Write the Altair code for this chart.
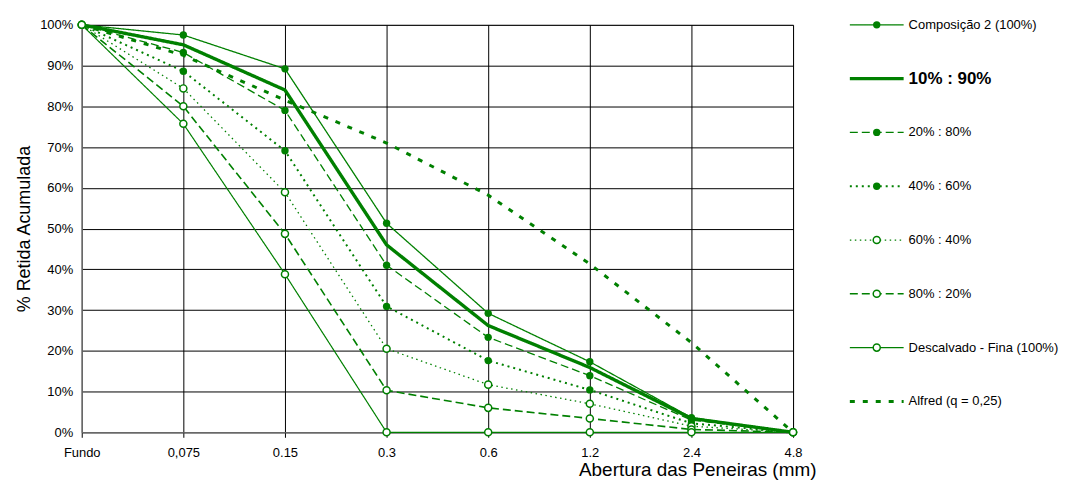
import altair as alt
import pandas as pd

sieves = ["Fundo", "0,075", "0.15", "0.3", "0.6", "1.2", "2.4", "4.8"]

series_names = [
    "Composição 2 (100%)",
    "10% : 90%",
    "20% : 80%",
    "40% : 60%",
    "60% : 40%",
    "80% : 20%",
    "Descalvado - Fina (100%)",
    "Alfred (q = 0,25)",
]

comp2 = [100, 97.5, 89.2, 51.3, 29.2, 17.3, 3.6, 0]
mix_10_90 = [100, 95.1, 84.0, 46.0, 26.2, 15.9, 3.4, 0]
mix_20_80 = [100, 93.2, 79.0, 41.0, 23.3, 13.9, 3.0, 0]
mix_40_60 = [100, 88.6, 69.1, 30.9, 17.6, 10.4, 2.2, 0]
mix_60_40 = [100, 84.4, 58.9, 20.5, 11.7, 7.0, 1.5, 0]
mix_80_20 = [100, 80.0, 48.7, 10.3, 6.0, 3.4, 0.7, 0]
descalvado = [100, 75.7, 38.8, 0, 0, 0, 0, 0]
alfred = [100, 92.5, 81.5, 71.0, 58.2, 41.3, 22.0, 0]

all_values = [comp2, mix_10_90, mix_20_80, mix_40_60, mix_60_40, mix_80_20, descalvado, alfred]

marker_kind = ["filled", "none", "filled", "filled", "open", "open", "open", "none"]
dash_styles = [[1, 0], [1, 0], [8, 4], [2, 4], [1.5, 3.5], [8, 4], [1, 0], [5, 8]]
line_widths = [1.3, 3.4, 1.3, 2.0, 1.3, 1.6, 1.2, 3.0]
bold_series = "10% : 90%"

GREEN = "#008000"
FONT = "Liberation Sans"

rows = []
for name, vals, mk in zip(series_names, all_values, marker_kind):
    for s, v in zip(sieves, vals):
        rows.append({"series": name, "sieve": s, "value": v, "marker": mk})
df = pd.DataFrame(rows)

legend_df = pd.DataFrame({"series": series_names, "marker": marker_kind})

dash_scale = alt.Scale(type="ordinal", domain=series_names, range=dash_styles)
width_scale = alt.Scale(type="ordinal", domain=series_names, range=line_widths)

x_enc = alt.X(
    "sieve:N",
    sort=sieves,
    scale=alt.Scale(type="point", padding=0),
    axis=alt.Axis(
        title="Abertura das Peneiras (mm)",
        labelAngle=0,
        labelFont=FONT,
        labelFontSize=13,
        labelColor="#000",
        labelPadding=9,
        tickSize=5,
        tickColor="#000",
        domainColor="#808080",
        grid=True,
        gridColor="#000",
        gridWidth=1,
        titleFont=FONT,
        titleFontSize=19,
        titleFontWeight="normal",
        titleColor="#000",
        titleAnchor="end",
        titleAlign="right",
        titleBaseline="alphabetic",
        titleX=737,
        titleY=43,
    ),
)
y_enc = alt.Y(
    "value:Q",
    scale=alt.Scale(domain=[0, 100], nice=False),
    axis=alt.Axis(
        title="% Retida Acumulada",
        values=list(range(0, 101, 10)),
        labelExpr="datum.value + '%'",
        labelFont=FONT,
        labelFontSize=13,
        labelColor="#000",
        labelPadding=9,
        ticks=False,
        domainColor="#808080",
        grid=True,
        gridColor="#000",
        gridWidth=1,
        titleFont=FONT,
        titleFontSize=18,
        titleFontWeight="normal",
        titleColor="#000",
        titlePadding=6,
    ),
)

base = alt.Chart(df)

lines = base.mark_line(color=GREEN, strokeCap="butt", clip=False).encode(
    x=x_enc,
    y=y_enc,
    detail="series:N",
    strokeDash=alt.StrokeDash("series:N", scale=dash_scale, legend=None),
    strokeWidth=alt.StrokeWidth("series:N", scale=width_scale, legend=None),
)

filled_pts = base.transform_filter(alt.datum.marker == "filled").mark_point(
    shape="circle", filled=True, color=GREEN, size=55, opacity=1
).encode(x=alt.X("sieve:N", sort=sieves), y="value:Q")

open_pts = base.transform_filter(alt.datum.marker == "open").mark_point(
    shape="circle", filled=True, fill="white", stroke=GREEN, strokeWidth=1.5, size=50, opacity=1
).encode(x=alt.X("sieve:N", sort=sieves), y="value:Q")

main = alt.layer(lines, filled_pts, open_pts).properties(width=714, height=409)

# custom legend panel
leg_base = alt.Chart(legend_df)
leg_y = alt.Y("series:N", sort=series_names, axis=None, scale=alt.Scale(type="point", padding=0))

leg_lines = leg_base.mark_rule(color=GREEN, strokeCap="butt").encode(
    x=alt.value(0),
    x2=alt.value(54),
    y=leg_y,
    strokeDash=alt.StrokeDash("series:N", scale=dash_scale, legend=None),
    strokeWidth=alt.StrokeWidth("series:N", scale=width_scale, legend=None),
)
leg_filled = leg_base.transform_filter(alt.datum.marker == "filled").mark_point(
    shape="circle", filled=True, color=GREEN, size=55, opacity=1
).encode(x=alt.value(27), y=leg_y)
leg_open = leg_base.transform_filter(alt.datum.marker == "open").mark_point(
    shape="circle", filled=True, fill="white", stroke=GREEN, strokeWidth=1.5, size=50, opacity=1
).encode(x=alt.value(27), y=leg_y)
leg_text = leg_base.transform_filter(alt.datum.series != bold_series).mark_text(
    align="left", baseline="middle", font=FONT, color="#000", fontSize=13
).encode(x=alt.value(59), y=leg_y, text="series:N")
leg_text_bold = leg_base.transform_filter(alt.datum.series == bold_series).mark_text(
    align="left", baseline="middle", font=FONT, color="#000", fontSize=17, fontWeight="bold"
).encode(x=alt.value(59), y=leg_y, text="series:N")

legend_panel = alt.layer(leg_lines, leg_filled, leg_open, leg_text, leg_text_bold).properties(
    width=220, height=378, view=alt.ViewBackground(stroke=None)
)

chart = alt.hconcat(main, legend_panel, spacing=31).configure_view(stroke="#808080").properties(
    padding={"left": 7, "top": 8, "right": 5, "bottom": 5}
)

chart.save("out.html", embed_options={"renderer": "svg", "actions": False})
